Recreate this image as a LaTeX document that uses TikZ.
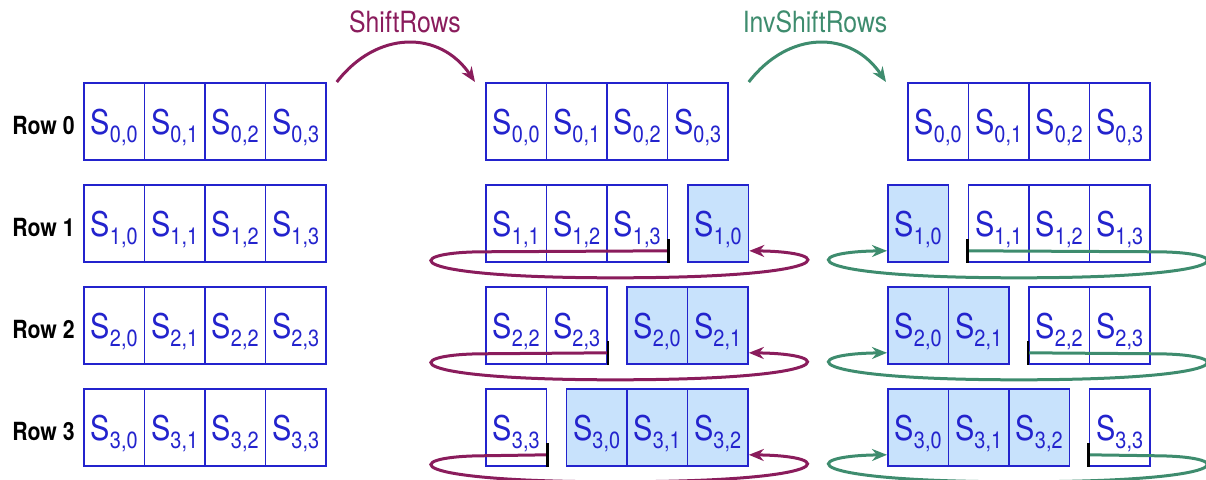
\documentclass[tikz,border=0pt]{standalone}
\usepackage{fontspec}
\setmainfont{TeX Gyre Heros}[FakeStretch=0.85]
\usepackage{tikz}
\usetikzlibrary{arrows.meta, positioning, calc}
\definecolor{cellBlue}{RGB}{35,35,205}
\definecolor{movedBlue}{RGB}{200,226,252}
\definecolor{shiftPurple}{RGB}{138,28,92}
\definecolor{invGreen}{RGB}{62,140,110}
\newcommand\cellW{60.5}
\newcommand\subIdx[1]{\raisebox{-4.3pt}{\fontsize{11.7}{12}\selectfont #1}}
\newcommand{\cellRun}[6]{
    \foreach \c [count=\k from 0] in {#6}
        \node[#1] (#2-#3-\c) at ({#4 + \k * \cellW}, #5) {S\subIdx{#3,\c}};
}
\newcommand{\shiftLoop}[3]{
    \coordinate (#1-t) at ($(#1.south east)+(0,-12)$);
    \draw[shiftArrow] (#1-t) -- ($(#2.south west)+(-5,-11)$)
        .. controls +(-80,1) and +(-215,0) .. ($(#2.south west)+(130,15)$)
        .. controls +(225,0) and +(90,1) .. (#3.east |- #1-t);
    \draw[tickMark] (#1.south east) -- ++(0,-24);
}
\newcommand{\invLoop}[3]{
    \coordinate (#1-t) at ($(#1.south west)+(0,-12)$);
    \draw[invArrow] (#1-t) -- ($(#2.south east)+(8,-11)$)
        .. controls +(80,1) and +(219,0) .. ($(#2.south east)+(-132,15)$)
        .. controls +(-222,0) and +(-90,1) .. (#3.west |- #1-t);
    \draw[tickMark] (#1.south west) -- ++(0,-24);
}

\begin{document}
\begin{tikzpicture}[x=0.5pt, y=-0.5pt,
        cell/.style={draw=cellBlue, line width=0.9pt, anchor=north west, minimum width=30.25pt, minimum height=38.5pt,
            inner sep=0pt, text depth=0pt, text=cellBlue, font=\fontsize{17}{18}\selectfont},
        moved/.style={cell, fill=movedBlue},
        rowLabel/.style={font=\bfseries\fontsize{12.5}{14}\selectfont, inner sep=0pt, text depth=0pt, yshift=-1.8pt},
        title/.style={font=\fontsize{14.6}{16}\selectfont, anchor=base, inner sep=0pt},
        shiftArrow/.style={draw=shiftPurple, line width=1.5pt, -{Stealth[length=7.5pt, width=6pt]}},
        invArrow/.style={draw=invGreen, line width=1.5pt, -{Stealth[length=7.5pt, width=6pt]}},
        tickMark/.style={draw=black, line width=1.2pt}]
    \useasboundingbox (0,0) rectangle (1206,479);

    % state before
    \cellRun{cell}{L}{0}{83}{82}{0,1,2,3}
    \cellRun{cell}{L}{1}{83}{184}{0,1,2,3}
    \cellRun{cell}{L}{2}{83}{286}{0,1,2,3}
    \cellRun{cell}{L}{3}{83}{388}{0,1,2,3}
    \node[rowLabel, left=4pt of L-0-0] (row0) {Row 0};
    \node[rowLabel, left=4pt of L-1-0] (row1) {Row 1};
    \node[rowLabel, left=4pt of L-2-0] (row2) {Row 2};
    \node[rowLabel, left=4pt of L-3-0] (row3) {Row 3};

    % after ShiftRows
    \cellRun{cell}{M}{0}{485}{82}{0,1,2,3}
    \cellRun{cell}{M}{1}{485}{184}{1,2,3}
    \cellRun{moved}{M}{1}{687}{184}{0}
    \cellRun{cell}{M}{2}{485}{286}{2,3}
    \cellRun{moved}{M}{2}{626}{286}{0,1}
    \cellRun{cell}{M}{3}{485}{388}{3}
    \cellRun{moved}{M}{3}{565.5}{388}{0,1,2}

    % after InvShiftRows
    \cellRun{cell}{R}{0}{907}{82}{0,1,2,3}
    \cellRun{moved}{R}{1}{887}{184}{0}
    \cellRun{cell}{R}{1}{967.5}{184}{1,2,3}
    \cellRun{moved}{R}{2}{887}{286}{0,1}
    \cellRun{cell}{R}{2}{1028}{286}{2,3}
    \cellRun{moved}{R}{3}{887}{388}{0,1,2}
    \cellRun{cell}{R}{3}{1088.5}{388}{3}

    \draw[shiftArrow] ($(L-0-3.north east)+(10,0)$) .. controls +(40,-52) and +(-35,-52) .. ($(M-0-0.north west)+(-10,0)$);
    \node[title, text=shiftPurple] (shiftName) at (405,32) {ShiftRows};
    \draw[invArrow] ($(M-0-3.north east)+(20,0)$) .. controls +(40,-52) and +(-35,-52) .. ($(R-0-0.north west)+(-21,0)$);
    \node[title, text=invGreen] (invName) at (815,32) {InvShiftRows};

    \shiftLoop{M-1-3}{M-1-1}{M-1-0}
    \shiftLoop{M-2-3}{M-2-2}{M-2-1}
    \shiftLoop{M-3-3}{M-3-3}{M-3-2}
    \invLoop{R-1-1}{R-1-3}{R-1-0}
    \invLoop{R-2-2}{R-2-3}{R-2-0}
    \invLoop{R-3-3}{R-3-3}{R-3-0}
\end{tikzpicture}
\end{document}
